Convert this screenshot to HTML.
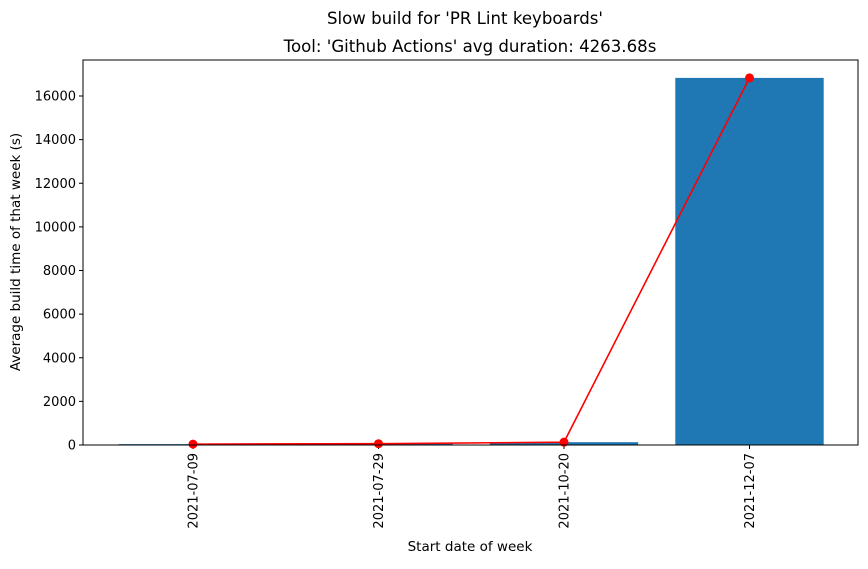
<!DOCTYPE html>
<html><head><meta charset="utf-8"><style>body{margin:0;background:#fff}svg{font-family:"DejaVu Sans","Liberation Sans",sans-serif}</style></head>
<body>
<svg id="c" width="868" height="564" xmlns="http://www.w3.org/2000/svg">
<text x="465" y="24" font-size="16.6" text-anchor="middle">Slow build for 'PR Lint keyboards'</text>
<text x="470" y="52" font-size="16.6" text-anchor="middle">Tool: 'Github Actions' avg duration: 4263.68s</text>
<g id="marks"></g>
<rect x="83" y="60" width="775" height="385" fill="none" stroke="#000" stroke-width="1"/>
<text x="470" y="551" font-size="13.5" text-anchor="middle">Start date of week</text>
<text transform="translate(20,252) rotate(-90)" font-size="13.5" text-anchor="middle">Average build time of that week (s)</text>
</svg>
<script>
const categories=["2021-07-09","2021-07-29","2021-10-20","2021-12-07"];
const values=[40,60,130,16830];
const yTicks=[0,2000,4000,6000,8000,10000,12000,14000,16000];
const L=83,R=858,T=60,B=445;
const ns="http://www.w3.org/2000/svg";
const g=document.getElementById('marks');
const step=185.5;
function xs(i){return 193+i*step;}
function ys(v){return B-v*(349/16000);}
function mk(t,a){const e=document.createElementNS(ns,t);for(const k in a)e.setAttribute(k,a[k]);g.appendChild(e);return e;}
values.forEach((v,i)=>{const bw=step*0.8;const r=mk('rect',{x:xs(i)-bw/2,y:ys(v),width:bw,height:B-ys(v),fill:'#1f77b4'});

});
yTicks.forEach(t=>{const y=ys(t);mk('line',{x1:L-4,x2:L,y1:y,y2:y,stroke:'#000'});
const tx=mk('text',{x:L-7,y:y+4.5,'font-size':13,'text-anchor':'end'});tx.textContent=t;

});
categories.forEach((c,i)=>{const x=xs(i);mk('line',{x1:x,x2:x,y1:B,y2:B+4,stroke:'#000'});
const tx=mk('text',{transform:`translate(${x+4.5},${B+8}) rotate(-90)`,'font-size':13,'text-anchor':'end'});tx.textContent=c;

});
const ln=mk('polyline',{points:values.map((v,i)=>xs(i)+','+ys(v)).join(' '),fill:'none',stroke:'red','stroke-width':1.6});


values.forEach((v,i)=>{const p=mk('circle',{cx:xs(i),cy:ys(v),r:4.5,fill:'red'});

});
</script>
</body></html>
